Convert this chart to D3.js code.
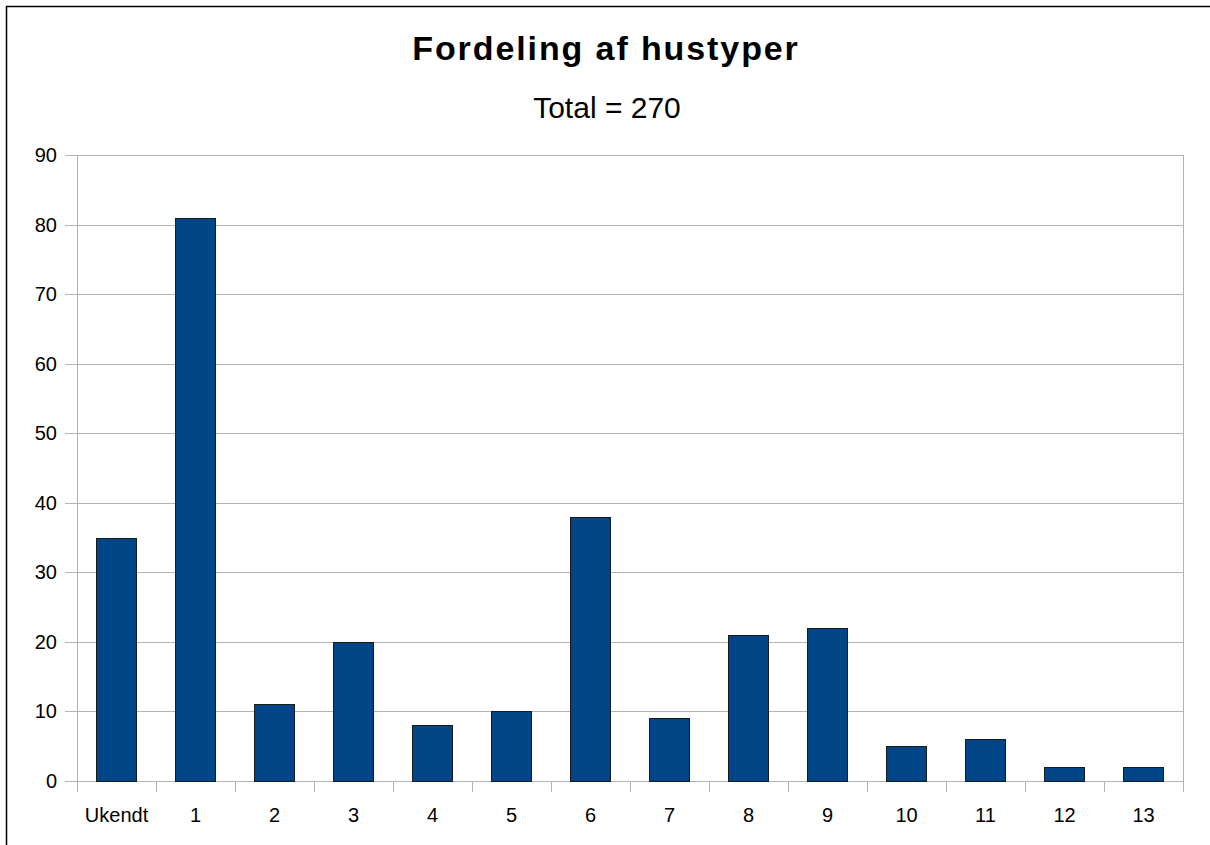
<!DOCTYPE html>
<html>
<head>
<meta charset="utf-8">
<script src="https://cdn.jsdelivr.net/npm/d3@7"></script>
<style>
  body { margin: 0; background: #fff; }
  svg text { font-family: "Liberation Sans", Arial, sans-serif; fill: #000; }
</style>
</head>
<body>
<div id="chart"></div>
<script>
// data
const categories = ["Ukendt", "1", "2", "3", "4", "5", "6", "7", "8", "9", "10", "11", "12", "13"];
const values = [35, 81, 11, 20, 8, 10, 38, 9, 21, 22, 5, 6, 2, 2];
const yTicks = [0, 10, 20, 30, 40, 50, 60, 70, 80, 90];

const width = 1210;
const height = 845;
const margin = { top: 155, right: 27, bottom: 64, left: 77 };

const svg = d3.select("#chart")
  .append("svg")
  .attr("width", width)
  .attr("height", height);

// outer frame
svg.append("rect")
  .attr("x", 6.5).attr("y", 6.5)
  .attr("width", width).attr("height", height)
  .attr("fill", "none")
  .attr("stroke", "#000")
  .attr("stroke-width", 1.5);

svg.append("text")
  .attr("x", 606).attr("y", 60)
  .attr("text-anchor", "middle")
  .style("font-size", "34px")
  .style("font-weight", "bold")
  .style("letter-spacing", "1.9px")
  .text("Fordeling af hustyper");

svg.append("text")
  .attr("x", 607).attr("y", 118)
  .attr("text-anchor", "middle")
  .style("font-size", "30px")
  .text("Total = " + d3.sum(values));

const x = d3.scaleBand()
  .domain(categories)
  .range([margin.left, width - margin.right])
  .paddingInner(0.49)
  .paddingOuter(0.245);

const xOuter = d3.scaleBand()
  .domain(categories)
  .range([margin.left, width - margin.right]);

const y = d3.scaleLinear()
  .domain([0, 90])
  .range([height - margin.bottom, margin.top]);

const grid = "#b3b3b3";

// horizontal gridlines
svg.append("g")
  .selectAll("line")
  .data(yTicks)
  .enter().append("line")
  .attr("x1", margin.left - 12)
  .attr("x2", width - margin.right)
  .attr("y1", d => Math.round(y(d)) + 0.5)
  .attr("y2", d => Math.round(y(d)) + 0.5)
  .attr("stroke", grid)
  .attr("stroke-width", 1);

// left and right frame of plot area
svg.append("line")
  .attr("x1", margin.left + 0.5).attr("x2", margin.left + 0.5)
  .attr("y1", margin.top).attr("y2", height - margin.bottom + 11)
  .attr("stroke", grid);
svg.append("line")
  .attr("x1", width - margin.right + 0.5).attr("x2", width - margin.right + 0.5)
  .attr("y1", margin.top).attr("y2", height - margin.bottom + 11)
  .attr("stroke", grid);

// x tick marks between categories
svg.append("g")
  .selectAll("line")
  .data(categories.slice(1))
  .enter().append("line")
  .attr("x1", d => Math.round(xOuter(d)) + 0.5)
  .attr("x2", d => Math.round(xOuter(d)) + 0.5)
  .attr("y1", height - margin.bottom)
  .attr("y2", height - margin.bottom + 11)
  .attr("stroke", grid);

// y labels
svg.append("g")
  .selectAll("text")
  .data(yTicks)
  .enter().append("text")
  .attr("x", 57)
  .attr("y", d => y(d) + 7)
  .attr("text-anchor", "end")
  .style("font-size", "20px")
  .text(d => d);

// x labels
svg.append("g")
  .selectAll("text")
  .data(categories)
  .enter().append("text")
  .attr("x", d => xOuter(d) + xOuter.bandwidth() / 2)
  .attr("y", 822)
  .attr("text-anchor", "middle")
  .style("font-size", "20px")
  .text(d => d);

// bars
svg.append("g")
  .selectAll("rect")
  .data(values)
  .enter().append("rect")
  .attr("x", (d, i) => Math.round(x(categories[i])) + 0.5)
  .attr("y", d => Math.round(y(d)) + 0.5)
  .attr("width", Math.round(x.bandwidth()))
  .attr("height", d => Math.round(y(0)) - Math.round(y(d)))
  .attr("fill", "#004586")
  .attr("stroke", "#1a1a1a")
  .attr("stroke-width", 1);
</script>
</body>
</html>
